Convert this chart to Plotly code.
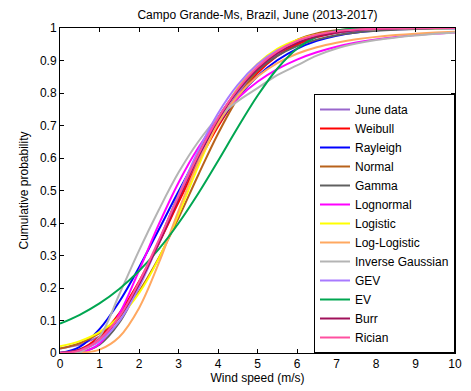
import plotly.graph_objects as go

# Wind speed grid (m/s)
wind_speed = [0, 0.5, 1, 1.5, 2, 2.5, 3, 3.5, 4, 4.5, 5, 5.5, 6, 6.5, 7, 7.5, 8, 8.5, 9, 9.5, 10]

june_data = [0.014, 0.025, 0.05, 0.115, 0.215, 0.335, 0.47, 0.595, 0.705, 0.80, 0.872, 0.92, 0.953, 0.972, 0.985, 0.992, 0.996, 0.998, 0.999, 1.0, 1.0]
weibull = [0.0, 0.0108, 0.0507, 0.1219, 0.2204, 0.3379, 0.4634, 0.5860, 0.6966, 0.7891, 0.8612, 0.9137, 0.9493, 0.9719, 0.9854, 0.9928, 0.9967, 0.9986, 0.9995, 0.9998, 1.0]
rayleigh = [0.0, 0.0189, 0.0735, 0.1578, 0.2631, 0.3794, 0.4969, 0.6074, 0.7052, 0.7869, 0.8517, 0.9007, 0.9360, 0.9603, 0.9763, 0.9864, 0.9925, 0.9960, 0.9979, 0.9990, 0.9995]
normal = [0.0135, 0.0301, 0.0610, 0.1125, 0.1894, 0.2922, 0.4155, 0.5478, 0.6748, 0.7843, 0.8686, 0.9269, 0.9630, 0.9830, 0.9929, 0.9973, 0.9991, 0.9997, 1.0, 1.0, 1.0]
gamma = [0.0, 0.0023, 0.0257, 0.0931, 0.2053, 0.3432, 0.4866, 0.6164, 0.7241, 0.8079, 0.8699, 0.9139, 0.9441, 0.9643, 0.9776, 0.9861, 0.9914, 0.9948, 0.9968, 0.9981, 0.9989]
lognormal = [0.0, 0.0009, 0.0287, 0.1196, 0.2535, 0.3955, 0.5241, 0.6315, 0.7171, 0.7837, 0.8346, 0.8735, 0.9029, 0.9252, 0.9422, 0.9551, 0.9650, 0.9726, 0.9784, 0.9830, 0.9865]
logistic = [0.0204, 0.0365, 0.0642, 0.1107, 0.1842, 0.2905, 0.4261, 0.5739, 0.7095, 0.8158, 0.8893, 0.9358, 0.9635, 0.9795, 0.9886, 0.9937, 0.9965, 0.9981, 0.9989, 0.9994, 0.9997]
log_logistic = [0.0, 0.0007, 0.0106, 0.0495, 0.1379, 0.2763, 0.4374, 0.5865, 0.7048, 0.7908, 0.8508, 0.8921, 0.9207, 0.9407, 0.9549, 0.9652, 0.9727, 0.9783, 0.9826, 0.9859, 0.9884]
inverse_gaussian = [0.0, 0.002, 0.05, 0.18, 0.315, 0.44, 0.555, 0.65, 0.725, 0.775, 0.815, 0.855, 0.885, 0.915, 0.937, 0.952, 0.963, 0.971, 0.977, 0.982, 0.986]
gev = [0.0013, 0.0089, 0.0356, 0.0979, 0.2023, 0.3386, 0.4856, 0.6227, 0.7372, 0.8251, 0.8882, 0.9311, 0.9590, 0.9765, 0.9870, 0.9931, 0.9965, 0.9983, 0.9992, 0.9997, 0.9999]
ev = [0.0902, 0.1176, 0.1526, 0.1970, 0.2522, 0.3194, 0.3993, 0.4908, 0.5909, 0.6938, 0.7914, 0.8746, 0.9360, 0.9738, 0.9919, 0.9983, 0.9998, 1.0, 1.0, 1.0, 1.0]
burr = [0.0007, 0.0098, 0.0432, 0.1099, 0.2114, 0.3383, 0.4745, 0.6044, 0.7169, 0.8071, 0.8747, 0.9224, 0.9542, 0.9742, 0.9862, 0.9930, 0.9966, 0.9984, 0.9993, 0.9997, 0.9999]
rician = [0.0, 0.008, 0.042, 0.112, 0.218, 0.347, 0.482, 0.610, 0.722, 0.812, 0.880, 0.928, 0.960, 0.979, 0.990, 0.9955, 0.998, 0.9992, 0.9997, 0.9999, 1.0]

series_names = ["June data", "Weibull", "Rayleigh", "Normal", "Gamma", "Lognormal", "Logistic",
                "Log-Logistic", "Inverse Gaussian", "GEV", "EV", "Burr", "Rician"]
series_values = [june_data, weibull, rayleigh, normal, gamma, lognormal, logistic,
                 log_logistic, inverse_gaussian, gev, ev, burr, rician]
series_colors = ["#9966CC", "#FF0000", "#0000FF", "#B8621B", "#606060", "#FF00FF", "#FFFF00",
                 "#FFA860", "#B4B4B4", "#A87AFF", "#00A651", "#A0105A", "#FF50A0"]

fig = go.Figure()
for name, vals, col in zip(series_names, series_values, series_colors):
    shape = "linear" if name == "June data" else "spline"
    fig.add_trace(go.Scatter(
        x=wind_speed, y=vals, mode="lines", name=name,
        line=dict(color=col, width=2, shape=shape),
    ))

font_family = "Liberation Sans, Arial, sans-serif"
fig.update_layout(
    width=471, height=391,
    margin=dict(l=60, r=9, t=28, b=38),
    paper_bgcolor="white", plot_bgcolor="white",
    font=dict(family=font_family, size=12, color="black"),
    title=dict(text="Campo Grande-Ms, Brazil, June (2013-2017)", x=0.5, xref="paper",
               y=1 - 15 / 391, yref="container", yanchor="middle",
               font=dict(size=12, color="black")),
    showlegend=True,
    legend=dict(x=1.0, y=0.0, xanchor="right", yanchor="bottom", xref="paper", yref="paper",
                bgcolor="white", bordercolor="black", borderwidth=1, itemwidth=30,
                font=dict(size=12, color="black"), tracegroupgap=0),
)
fig.update_xaxes(range=[0, 10], dtick=1, tick0=0, showline=True, linecolor="black", linewidth=1,
                 mirror="ticks", ticks="inside", ticklen=4, tickcolor="black", showgrid=False,
                 zeroline=False, tickfont=dict(size=12),
                 title=dict(text="Wind speed (m/s)", standoff=2, font=dict(size=12)))
fig.update_yaxes(range=[0, 1], dtick=0.1, tick0=0, showline=True, linecolor="black", linewidth=1,
                 mirror="ticks", ticks="inside", ticklen=4, tickcolor="black", showgrid=False,
                 zeroline=False, tickfont=dict(size=12),
                 title=dict(text="Cumulative probability", standoff=8, font=dict(size=12)))

fig.write_html("out.html", config={"displayModeBar": False},
               post_script="document.body.style.margin='0';")
